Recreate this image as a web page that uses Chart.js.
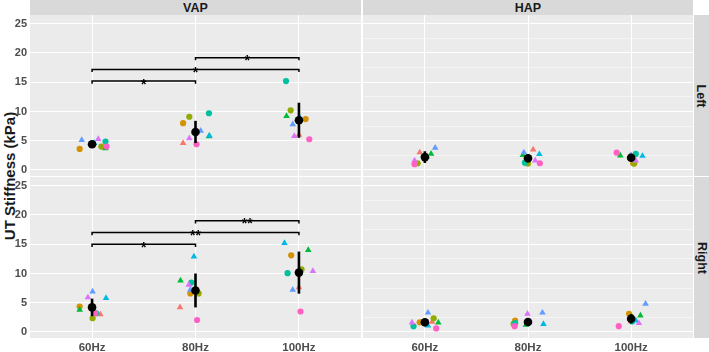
<!DOCTYPE html>
<html>
<head>
<meta charset="utf-8">
<script src="https://cdn.jsdelivr.net/npm/chart.js@4.4.1/dist/chart.umd.min.js"></script>
<style>
  body { margin: 0; background: #fff; font-family: "Liberation Sans", Arial, sans-serif; }
  #wrap { position: relative; width: 709px; height: 352px; overflow: hidden; }
  canvas { position: absolute; }
  .strip { position: absolute; background: #D9D9D9; color: #1A1A1A; font-weight: bold; font-size: 12.5px;
           display: flex; align-items: center; justify-content: center; }
  .vstrip span { transform: rotate(90deg); white-space: nowrap; }
  #ytitle { position: absolute; left: 9px; top: 176px; transform: translate(-50%, -50%) rotate(-90deg);
            font-weight: bold; font-size: 15px; color: #1A1A1A; white-space: nowrap; }
</style>
</head>
<body>
<div id="wrap">
  <div class="strip" style="left:30px;top:0;width:331px;height:15px;">VAP</div>
  <div class="strip" style="left:363px;top:0;width:330px;height:15px;">HAP</div>
  <div class="strip vstrip" style="left:694px;top:15px;width:15px;height:161px;"><span>Left</span></div>
  <div class="strip vstrip" style="left:694px;top:177px;width:15px;height:161px;"><span>Right</span></div>
  <div id="ytitle">UT Stiffness (kPa)</div>
  <canvas id="vapLeft" width="361" height="161" style="left:0;top:15px;"></canvas>
  <canvas id="hapLeft" width="330" height="161" style="left:363px;top:15px;"></canvas>
  <canvas id="vapRight" width="361" height="175" style="left:0;top:177px;"></canvas>
  <canvas id="hapRight" width="330" height="175" style="left:363px;top:177px;"></canvas>
</div>
<script>
// Categories and subjects
const freqs = ['60Hz', '80Hz', '100Hz'];
const yTicks = [0, 5, 10, 15, 20, 25];
const subjectColors = ['#F8766D', '#D39200', '#93AA00', '#00BA38', '#00C19F', '#00B9E3', '#619CFF', '#DB72FB', '#FF61C3'];
const subjectShapes = ['triangle', 'circle', 'circle', 'triangle', 'circle', 'triangle', 'triangle', 'triangle', 'circle'];

// Stiffness per subject, one row per frequency (60, 80, 100 Hz)
const vapLeftVals = [
    [4.4, 3.6, 4.0, 3.7, 4.85, 4.6, 5.1, 5.3, 4.0],
    [4.6, 8.0, 9.1, 5.75, 9.7, 5.85, 6.7, 5.4, 4.4],
    [6.0, 8.7, 10.2, 9.2, 15.2, 8.9, 7.8, 5.8, 5.25]
];
const vapLeftJitter = [
    [0, -0.12, 0.09, 0.13, 0.13, 0.02, -0.10, 0.06, 0.14],
    [-0.12, -0.12, -0.06, 0.13, 0.13, 0.135, 0.05, -0.06, 0.01],
    [0, 0.065, -0.08, -0.12, -0.125, 0.01, -0.06, -0.045, 0.10]
];
const vapLeftMean = [4.4, 6.5, 8.5];
const vapLeftErr = [0.4, 1.9, 3.0];

const hapLeftVals = [
    [3.0, 2.0, 1.15, 2.75, 2.2, 2.3, 3.8, 1.6, 1.0],
    [3.5, 1.2, 1.1, 2.55, 1.25, 2.7, 3.0, 1.6, 1.15],
    [2.4, 1.15, 1.1, 2.45, 2.75, 2.4, 2.5, 1.6, 2.95]
];
const hapLeftJitter = [
    [-0.05, 0, -0.07, 0.06, 0.01, 0.02, 0.10, -0.10, -0.10],
    [0.05, -0.01, 0, -0.05, -0.03, 0.11, -0.04, 0.07, 0.115],
    [-0.01, 0.02, 0.03, -0.105, 0.045, 0.11, 0, 0.045, -0.14]
];
const hapLeftMean = [2.2, 2.0, 2.1];
const hapLeftErr = [1.0, 0.7, 0.4];

const vapRightVals = [
    [3.0, 4.35, 2.35, 3.8, 3.2, 5.8, 6.9, 5.9, 3.2],
    [4.2, 6.6, 6.6, 8.8, 8.45, 12.9, 7.2, 8.05, 2.05],
    [7.65, 13.1, 10.7, 14.0, 10.05, 15.2, 7.2, 10.4, 3.5]
];
const vapRightJitter = [
    [0.08, -0.12, 0.005, -0.12, 0.04, 0.135, 0.005, -0.04, 0.03],
    [-0.15, -0.05, 0.03, -0.145, -0.04, -0.015, -0.05, -0.065, 0.015],
    [0, -0.075, 0.025, 0.09, -0.11, -0.14, -0.06, 0.135, 0.015]
];
const vapRightMean = [4.2, 7.1, 10.15];
const vapRightErr = [1.5, 2.9, 3.6];

const hapRightVals = [
    [1.75, 1.65, 2.35, 1.6, 1.0, 1.1, 3.3, 1.6, 0.6],
    [1.7, 1.95, 1.4, 1.2, 1.5, 1.35, 3.3, 3.1, 1.0],
    [1.8, 3.1, 2.6, 2.8, 1.8, 1.95, 4.8, 1.5, 1.0]
];
const hapRightJitter = [
    [0.07, -0.05, 0.085, 0.13, -0.11, 0.03, 0.03, -0.125, 0.11],
    [0, -0.125, -0.14, -0.02, -0.125, 0.15, 0.14, -0.005, -0.13],
    [0, -0.02, 0, 0.09, 0.01, 0.045, 0.14, 0.075, -0.12]
];
const hapRightMean = [1.65, 1.7, 2.25];
const hapRightErr = [0.6, 0.6, 0.8];

// Significance brackets: [from, to, height, label]
const vapLeftSig = [[1, 2, 15.2, '*'], [1, 3, 17.2, '*'], [2, 3, 19.2, '*']];
const vapRightSig = [[1, 2, 15.0, '*'], [1, 3, 17.0, '**'], [2, 3, 19.0, '**']];

const fontFamily = "'Liberation Sans', Arial, sans-serif";

function buildDatasets(vals, jitter, means, errs, sig) {
    const datasets = [];
    subjectColors.forEach((col, s) => {
        datasets.push({
            data: freqs.map((f, i) => ({ x: i + 1 + jitter[i][s], y: vals[i][s] })),
            pointStyle: subjectShapes[s],
            pointRadius: subjectShapes[s] === 'triangle' ? 3.8 : 3.1,
            backgroundColor: col,
            borderColor: col,
            borderWidth: 0,
            order: 30 - s
        });
    });
    sig.forEach(b => {
        datasets.push({
            data: [{ x: b[0], y: b[2] - 0.45 }, { x: b[0], y: b[2] }, { x: b[1], y: b[2] }, { x: b[1], y: b[2] - 0.45 }],
            showLine: true,
            borderColor: '#000',
            borderWidth: 1.5,
            pointRadius: 0,
            order: 5
        });
    });
    means.forEach((m, i) => {
        datasets.push({
            data: [{ x: i + 1, y: m - errs[i] }, { x: i + 1, y: m + errs[i] }],
            showLine: true,
            borderColor: '#000',
            borderWidth: 2.6,
            pointRadius: 0,
            order: 2
        });
    });
    datasets.push({
        data: means.map((m, i) => ({ x: i + 1, y: m })),
        backgroundColor: '#000',
        borderColor: '#000',
        pointRadius: 4.3,
        borderWidth: 0,
        order: 0
    });
    return datasets;
}

const panelBg = {
    id: 'panelBg',
    beforeDraw(chart) {
        const a = chart.chartArea;
        const ctx = chart.ctx;
        ctx.save();
        ctx.fillStyle = '#EBEBEB';
        ctx.fillRect(a.left, a.top, a.right - a.left, a.bottom - a.top);
        ctx.restore();
    }
};

function sigLabels(sig) {
    return {
        id: 'sigLabels',
        afterDatasetsDraw(chart) {
            const ctx = chart.ctx;
            const xs = chart.scales.x, ys = chart.scales.y;
            ctx.save();
            ctx.fillStyle = '#000';
            ctx.font = 'bold 14px ' + fontFamily;
            ctx.textAlign = 'center';
            ctx.textBaseline = 'alphabetic';
            sig.forEach(b => {
                const x = xs.getPixelForValue((b[0] + b[1]) / 2);
                const y = ys.getPixelForValue(b[2]);
                ctx.fillText(b[3], x, y + 7.5);
            });
            ctx.restore();
        }
    };
}

function makePanel(id, vals, jitter, means, errs, sig, showY, showX) {
    const ctx = document.getElementById(id).getContext('2d');
    return new Chart(ctx, {
        type: 'scatter',
        data: { datasets: buildDatasets(vals, jitter, means, errs, sig) },
        options: {
            responsive: false,
            animation: false,
            layout: { padding: 0, autoPadding: false },
            plugins: { legend: { display: false }, tooltip: { enabled: false } },
            scales: {
                x: {
                    type: 'linear',
                    min: 0.4,
                    max: 3.6,
                    afterBuildTicks: s => { s.ticks = freqs.map((f, i) => ({ value: i + 1 })); },
                    afterFit: s => {
                        s.height = showX ? 14 : 0;
                        s.paddingLeft = 0; s.paddingRight = 0; s.paddingTop = 0; s.paddingBottom = 0;
                    },
                    border: { display: false },
                    grid: { color: '#FFFFFF', lineWidth: 1, drawTicks: false },
                    ticks: {
                        display: showX,
                        padding: 3,
                        maxRotation: 0,
                        color: '#4D4D4D',
                        font: { family: fontFamily, size: 11.5, weight: 'bold' },
                        callback: v => freqs[Math.round(v) - 1]
                    }
                },
                y: {
                    type: 'linear',
                    min: -1.03,
                    max: 26.5,
                    afterBuildTicks: s => {
                        const t = [];
                        for (let v = 0; v <= 25; v += 2.5) t.push({ value: v });
                        s.ticks = t;
                    },
                    afterFit: s => {
                        s.width = showY ? 30 : 0;
                        s.paddingLeft = 0; s.paddingRight = 0; s.paddingTop = 0; s.paddingBottom = 0;
                    },
                    border: { display: false },
                    grid: {
                        color: '#FFFFFF',
                        lineWidth: c => (c.tick && c.tick.value % 5 === 0) ? 1.1 : 0.5,
                        drawTicks: false
                    },
                    ticks: {
                        display: showY,
                        padding: 3,
                        color: '#4D4D4D',
                        font: { family: fontFamily, size: 11, weight: 'bold' },
                        callback: v => yTicks.includes(v) ? String(v) : ''
                    }
                }
            }
        },
        plugins: [panelBg, sigLabels(sig)]
    });
}

makePanel('vapLeft', vapLeftVals, vapLeftJitter, vapLeftMean, vapLeftErr, vapLeftSig, true, false);
makePanel('hapLeft', hapLeftVals, hapLeftJitter, hapLeftMean, hapLeftErr, [], false, false);
makePanel('vapRight', vapRightVals, vapRightJitter, vapRightMean, vapRightErr, vapRightSig, true, true);
makePanel('hapRight', hapRightVals, hapRightJitter, hapRightMean, hapRightErr, [], false, true);
</script>
</body>
</html>
